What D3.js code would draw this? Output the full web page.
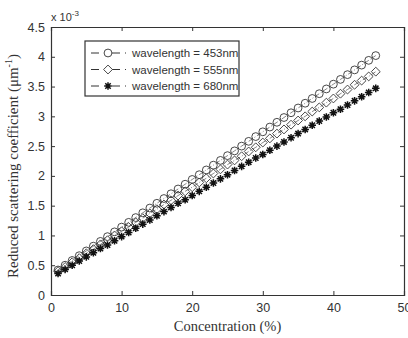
<!DOCTYPE html>
<html>
<head>
<meta charset="utf-8">
<script src="https://cdn.jsdelivr.net/npm/d3@7"></script>
<style>
  body { margin: 0; background: #fff; }
  text { fill: #333; }
</style>
</head>
<body>
<script>
// concentration (%) and reduced scattering coefficient (x 1e-3 um^-1)
var conc = [1,2,3,4,5,6,7,8,9,10,11,12,13,14,15,16,17,18,19,20,21,22,23,24,25,26,27,28,29,30,31,32,33,34,35,36,37,38,39,40,41,42,43,44,45,46];
var mu453 = [0.42,0.50,0.58,0.66,0.74,0.82,0.90,0.98,1.06,1.14,1.22,1.30,1.38,1.46,1.54,1.62,1.70,1.78,1.86,1.94,2.02,2.10,2.18,2.26,2.34,2.42,2.50,2.58,2.66,2.74,2.82,2.90,2.98,3.06,3.14,3.22,3.30,3.38,3.46,3.54,3.62,3.70,3.78,3.86,3.94,4.02];
var mu555 = [0.40,0.47,0.55,0.62,0.70,0.77,0.85,0.92,1.00,1.07,1.14,1.22,1.29,1.37,1.44,1.52,1.59,1.67,1.74,1.81,1.89,1.96,2.04,2.11,2.19,2.26,2.33,2.41,2.48,2.56,2.63,2.71,2.78,2.86,2.93,3.00,3.08,3.15,3.23,3.30,3.38,3.45,3.53,3.60,3.67,3.75];
var mu680 = [0.36,0.43,0.50,0.57,0.64,0.71,0.78,0.84,0.91,0.98,1.05,1.12,1.19,1.26,1.33,1.40,1.47,1.54,1.60,1.67,1.74,1.81,1.88,1.95,2.02,2.09,2.16,2.23,2.30,2.36,2.43,2.50,2.57,2.64,2.71,2.78,2.85,2.92,2.99,3.06,3.12,3.19,3.26,3.33,3.40,3.47];
var seriesNames = ["wavelength = 453nm", "wavelength = 555nm", "wavelength = 680nm"];
var xTicks = [0, 10, 20, 30, 40, 50];
var yTicks = [0, 0.5, 1, 1.5, 2, 2.5, 3, 3.5, 4, 4.5];

var width = 408, height = 338;
var margin = {top: 27, right: 4, bottom: 43, left: 51};
var ink = "#333";

var svg = d3.select("body").append("svg")
    .attr("width", width)
    .attr("height", height)
    .style("font-family", "'Liberation Sans', Arial, sans-serif");

var x = d3.scaleLinear().domain([0, 50]).range([margin.left, width - margin.right]);
var y = d3.scaleLinear().domain([0, 4.5]).range([height - margin.bottom, margin.top]);

// axes, ticks pointing inward on all four sides
svg.append("g")
    .attr("transform", "translate(0," + y(0) + ")")
    .call(d3.axisBottom(x).tickValues(xTicks).tickSize(-4).tickPadding(8).tickFormat(d3.format("d")));
svg.append("g")
    .attr("transform", "translate(0," + y(4.5) + ")")
    .call(d3.axisTop(x).tickValues(xTicks).tickSize(-4).tickFormat(""));
svg.append("g")
    .attr("transform", "translate(" + x(0) + ",0)")
    .call(d3.axisLeft(y).tickValues(yTicks).tickSize(-4).tickPadding(6).tickFormat(d3.format("")));
svg.append("g")
    .attr("transform", "translate(" + x(50) + ",0)")
    .call(d3.axisRight(y).tickValues(yTicks).tickSize(-4).tickFormat(""));

svg.selectAll(".domain").attr("stroke", ink).attr("stroke-width", 1.2);
svg.selectAll(".tick line").attr("stroke", ink);
svg.selectAll(".tick text").attr("font-size", 12.5).attr("fill", ink)
    .attr("font-family", "'Liberation Sans', Arial, sans-serif");

// exponent label
var expo = svg.append("text")
    .attr("x", x(0))
    .attr("y", y(4.5) - 6)
    .attr("font-size", 11);
expo.append("tspan").text("x 10");
expo.append("tspan").attr("dy", -5).attr("font-size", 8).text("-3");

// axis labels
svg.append("text")
    .attr("x", (x(0) + x(50)) / 2)
    .attr("y", height - 7)
    .attr("text-anchor", "middle")
    .attr("font-family", "'Liberation Serif', 'Times New Roman', serif")
    .attr("font-size", 14.5)
    .text("Concentration (%)");

var yl = svg.append("text")
    .attr("transform", "translate(18,166) rotate(-90)")
    .attr("text-anchor", "middle")
    .attr("font-family", "'Liberation Serif', 'Times New Roman', serif")
    .attr("font-size", 15);
yl.append("tspan").text("Reduced scattering coefficient (\u03bcm");
yl.append("tspan").attr("dy", -6).attr("font-size", 10).text("-1");
yl.append("tspan").attr("dy", 6).text(")");

// markers
var circleSym = d3.symbol().type(d3.symbolCircle).size(48);
var diamondSym = d3.symbol().type(d3.symbolDiamond2).size(50);
var starPath = "M-3.8,0L3.8,0M0,-3.8L0,3.8M-2.7,-2.7L2.7,2.7M-2.7,2.7L2.7,-2.7";

function drawSeries(vals, kind) {
  var g = svg.append("g");
  g.append("path")
      .datum(conc)
      .attr("fill", "none")
      .attr("stroke", ink)
      .attr("stroke-width", 0.6)
      .attr("stroke-dasharray", "5,2,1,2")
      .attr("d", d3.line().x(function(d) { return x(d); }).y(function(d, i) { return y(vals[i]); }));
  g.selectAll("path.m")
      .data(conc)
    .enter().append("path")
      .attr("class", "m")
      .attr("transform", function(d, i) { return "translate(" + x(d) + "," + y(vals[i]) + ")"; })
      .attr("d", kind === "circle" ? circleSym() : kind === "diamond" ? diamondSym() : starPath)
      .attr("fill", "none")
      .attr("stroke", kind === "star" ? "#111" : ink)
      .attr("stroke-width", kind === "star" ? 1.5 : 0.9);
}
drawSeries(mu453, "circle");
drawSeries(mu555, "diamond");
drawSeries(mu680, "star");

// legend
var lg = svg.append("g");
lg.append("rect")
    .attr("x", 85).attr("y", 41).attr("width", 154).attr("height", 55)
    .attr("fill", "#fff").attr("stroke", ink).attr("stroke-width", 1.2);
var kinds = ["circle", "diamond", "star"];
kinds.forEach(function(k, i) {
  var yy = 53 + i * 16.5;
  lg.append("line")
      .attr("x1", 91).attr("x2", 126).attr("y1", yy).attr("y2", yy)
      .attr("stroke", ink).attr("stroke-width", 1)
      .attr("stroke-dasharray", "8,13,8,5,1,100");
  lg.append("path")
      .attr("transform", "translate(108," + yy + ")")
      .attr("d", k === "circle" ? circleSym() : k === "diamond" ? diamondSym() : starPath)
      .attr("fill", "#fff")
      .attr("stroke", k === "star" ? "#111" : ink)
      .attr("stroke-width", k === "star" ? 1.5 : 0.9);
  lg.append("text")
      .attr("x", 132).attr("y", yy + 4)
      .attr("font-size", 11.5)
      .attr("fill", ink)
      .text(seriesNames[i]);
});
</script>
</body>
</html>
